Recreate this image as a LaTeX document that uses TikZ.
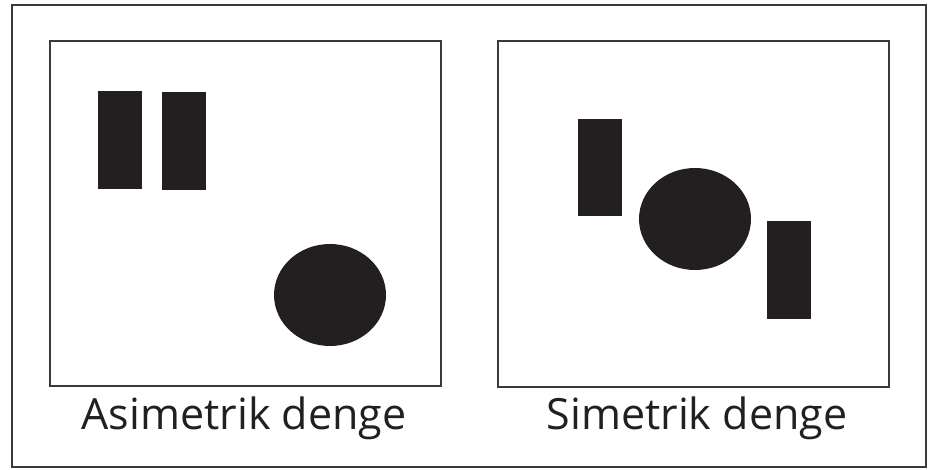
\documentclass[tikz,border=0pt]{standalone}
\usepackage{fontspec}
\setmainfont{Open Sans}
\definecolor{shape}{HTML}{231F20}
\definecolor{frame}{HTML}{3A3A3A}
\begin{document}
\begin{tikzpicture}[x=1pt,y=-1pt,
  framebox/.style={draw=frame,line width=1.5pt},
  blk/.style={fill=shape},
  lbl/.style={font=\fontsize{43}{50}\selectfont,text=shape,anchor=base,inner sep=0pt}]
\useasboundingbox (0,0) rectangle (930,470);
\draw[framebox] (12,5) rectangle (926,467);
\draw[framebox] (50,41) rectangle (441,386);
\draw[framebox] (498,41) rectangle (889,387);
% left
\fill[blk] (98,91) rectangle (142,189);
\fill[blk] (162,92) rectangle (206,190);
\fill[blk] (330,295) ellipse [x radius=56, y radius=51];
% right
\fill[blk] (578,119) rectangle (622,216);
\fill[blk] (695,219) ellipse [x radius=56, y radius=51];
\fill[blk] (767,221) rectangle (811,319);
\node[lbl] (a) at (244,430) {Asimetrik denge};
\node[lbl] (b) at (697,430) {Simetrik denge};
\end{tikzpicture}
\end{document}
